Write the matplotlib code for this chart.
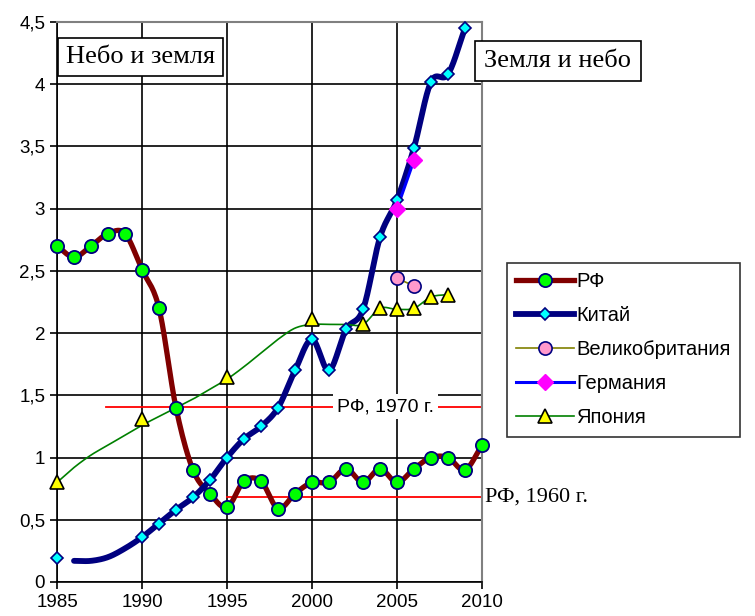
# Небо и земля / Земля и небо - chart rebuild
import numpy as np
import matplotlib
matplotlib.use("Agg")
import matplotlib.pyplot as plt
from matplotlib.lines import Line2D
from matplotlib.ticker import FuncFormatter

plt.rcParams['font.family'] = ['Liberation Sans', 'DejaVu Sans']

# ---------------- data
rf_years = list(range(1985, 2011))
rf_vals = [2.70, 2.61, 2.70, 2.80, 2.80, 2.51, 2.20, 1.40, 0.90, 0.71,
           0.60, 0.81, 0.81, 0.59, 0.71, 0.80, 0.80, 0.91, 0.80, 0.91,
           0.80, 0.91, 1.00, 1.00, 0.90, 1.10]

china_line_years = list(range(1986, 2010))
china_line_vals = [0.17, 0.17, 0.20, 0.27, 0.36, 0.47, 0.58, 0.68, 0.82, 1.00,
                   1.15, 1.25, 1.40, 1.70, 1.95, 1.70, 2.03, 2.19, 2.77, 3.07,
                   3.49, 4.02, 4.08, 4.45]
china_pt_years = [1985] + list(range(1990, 2010))
china_pt_vals = [0.19, 0.36, 0.47, 0.58, 0.68, 0.82, 1.00, 1.15, 1.25, 1.40,
                 1.70, 1.95, 1.70, 2.03, 2.19, 2.77, 3.07, 3.49, 4.02, 4.08, 4.45]

uk_years = [2005, 2006]
uk_vals = [2.44, 2.38]

de_years = [2005, 2006]
de_vals = [3.00, 3.39]

jp_line_years = list(range(1985, 2009))
jp_line_vals = [0.80, 0.92, 1.02, 1.10, 1.18, 1.26, 1.33, 1.40, 1.47, 1.55,
                1.63, 1.73, 1.84, 1.95, 2.04, 2.07, 2.07, 2.07, 2.07, 2.20,
                2.19, 2.20, 2.29, 2.31]
jp_pt_years = [1985, 1990, 1995, 2000, 2003, 2004, 2005, 2006, 2007, 2008]
jp_pt_vals = [0.80, 1.31, 1.65, 2.11, 2.07, 2.20, 2.19, 2.20, 2.29, 2.31]

rf1970 = 1.41
rf1960 = 0.68


def smooth(xs, ys, n=16):
    """Catmull-Rom curve through the points (like Excel smoothed line)."""
    x = np.asarray(xs, float)
    y = np.asarray(ys, float)
    px = np.concatenate([[2 * x[0] - x[1]], x, [2 * x[-1] - x[-2]]])
    py = np.concatenate([[2 * y[0] - y[1]], y, [2 * y[-1] - y[-2]]])
    outx, outy = [], []
    t = np.linspace(0, 1, n, endpoint=False)
    for i in range(1, len(px) - 2):
        for arr, out in ((px, outx), (py, outy)):
            p0, p1, p2, p3 = arr[i - 1], arr[i], arr[i + 1], arr[i + 2]
            seg = 0.5 * ((2 * p1) + (-p0 + p2) * t
                         + (2 * p0 - 5 * p1 + 4 * p2 - p3) * t ** 2
                         + (-p0 + 3 * p1 - 3 * p2 + p3) * t ** 3)
            out.extend(seg)
    outx.append(x[-1])
    outy.append(y[-1])
    return np.array(outx), np.array(outy)


fig = plt.figure(figsize=(7.55, 6.16), dpi=100)
ax = fig.add_axes([57 / 755, 34 / 616, 425 / 755, 560 / 616])

ax.set_xlim(1985, 2010)
ax.set_ylim(0, 4.5)
ax.set_xticks(range(1985, 2011, 5))
ax.set_yticks(np.arange(0, 4.51, 0.5))
ax.yaxis.set_major_formatter(FuncFormatter(lambda v, p: f"{v:g}".replace(".", ",")))
ax.grid(True, color="black", linewidth=1.2)
ax.set_axisbelow(True)
ax.tick_params(labelsize=13.5, length=5, width=1.2, direction="out")
for s in ["top", "right"]:
    ax.spines[s].set_color("#808080")
    ax.spines[s].set_linewidth(1.5)
for s in ["left", "bottom"]:
    ax.spines[s].set_linewidth(1.2)

# reference lines
ax.plot([1987.9, 2010], [rf1970, rf1970], color="red", lw=1.3, zorder=2)
ax.plot([1995, 2010], [rf1960, rf1960], color="red", lw=1.3, zorder=2)
ax.text(2004.3, rf1970, "РФ, 1970 г.", fontsize=14, ha="center", va="center",
        bbox=dict(facecolor="white", edgecolor="none", pad=3), zorder=3)
ax.text(2010.2, rf1960, "РФ, 1960 г.", fontsize=16, family="Liberation Serif",
        ha="left", va="center", clip_on=False)

# series lines
sx, sy = smooth(rf_years, rf_vals)
ax.plot(sx, sy, color="#800000", lw=3.8, zorder=4, solid_capstyle="round")
sx, sy = smooth(china_line_years, china_line_vals)
ax.plot(sx, sy, color="#000080", lw=4.2, zorder=5, solid_capstyle="round")
ax.plot(uk_years, uk_vals, color="#808000", lw=1.2, zorder=6)
ax.plot(de_years, de_vals, color="#0000ff", lw=2.2, zorder=7)
sx, sy = smooth(jp_line_years, jp_line_vals)
ax.plot(sx, sy, color="#008000", lw=1.2, zorder=8)

# markers
ax.plot(rf_years, rf_vals, ls="none", marker="o", ms=9.5, mfc="#00ff00",
        mec="#000080", mew=1.3, zorder=9, clip_on=False)
ax.plot(china_pt_years, china_pt_vals, ls="none", marker="D", ms=6.5,
        mfc="#00ffff", mec="#000080", mew=1.2, zorder=10, clip_on=False)
ax.plot(uk_years, uk_vals, ls="none", marker="o", ms=9.5, mfc="#ff99cc",
        mec="#000080", mew=1.2, zorder=11)
ax.plot(de_years, de_vals, ls="none", marker="D", ms=8, mfc="#ff00ff",
        mec="#ff00ff", zorder=12)
ax.plot(jp_pt_years, jp_pt_vals, ls="none", marker="^", ms=9.5, mfc="#ffff00",
        mec="black", mew=1.2, zorder=13, clip_on=False)

# captions
ax.text(1985.5, 4.22, "Небо и земля", fontsize=19, family="Liberation Serif",
        ha="left", va="center", zorder=20,
        bbox=dict(boxstyle="square,pad=0.3", facecolor="white", edgecolor="black", lw=1.2))
fig.text(558 / 755, 1 - 61 / 616, "Земля и небо", fontsize=19, family="Liberation Serif",
         ha="center", va="center",
         bbox=dict(boxstyle="square,pad=0.35", facecolor="white", edgecolor="black", lw=1.2))

handles = [
    Line2D([], [], color="#800000", lw=3.8, marker="o", ms=9.5, mfc="#00ff00", mec="#000080", mew=1.3),
    Line2D([], [], color="#000080", lw=4.2, marker="D", ms=6.5, mfc="#00ffff", mec="#000080", mew=1.2),
    Line2D([], [], color="#808000", lw=1.2, marker="o", ms=9.5, mfc="#ff99cc", mec="#000080", mew=1.2),
    Line2D([], [], color="#0000ff", lw=2.2, marker="D", ms=8, mfc="#ff00ff", mec="#ff00ff"),
    Line2D([], [], color="#008000", lw=1.2, marker="^", ms=9.5, mfc="#ffff00", mec="black", mew=1.2),
]
labels = ["РФ", "Китай", "Великобритания", "Германия", "Япония"]
leg = fig.legend(handles, labels, loc="upper left", bbox_to_anchor=(507 / 755, 1 - 263 / 616),
                 fontsize=14.5, frameon=True, fancybox=False, edgecolor="black",
                 handlelength=2.9, handletextpad=0.1, labelspacing=0.75,
                 borderpad=0.45, borderaxespad=0)
leg.get_frame().set_linewidth(1.2)

fig.savefig("out.png", dpi=100)
